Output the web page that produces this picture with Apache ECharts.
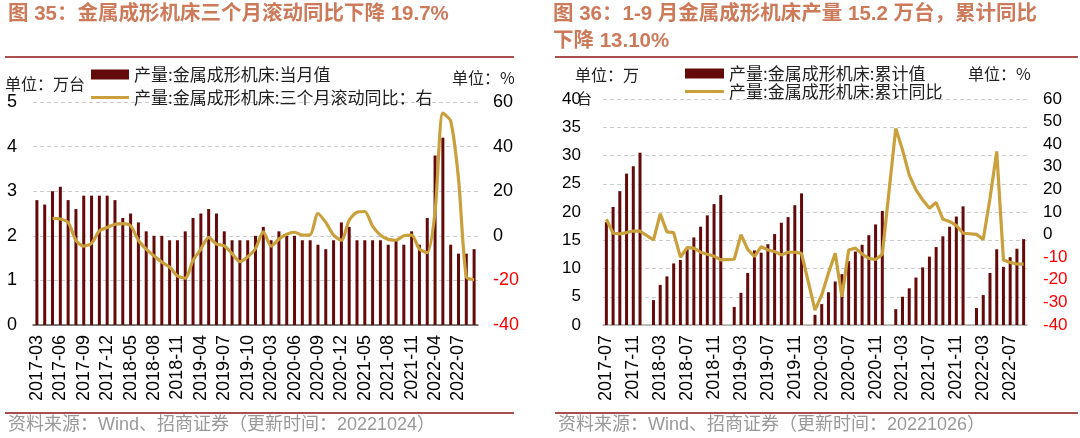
<!DOCTYPE html>
<html>
<head>
<meta charset="utf-8">
<script src="https://cdn.jsdelivr.net/npm/echarts@6/dist/echarts.min.js"></script>
<style>
  html, body { margin: 0; padding: 0; background: #fff; }
  #chart { width: 1080px; height: 438px; }
</style>
</head>
<body>
<div id="chart"></div>
<script>
// ==============================
// 데이터 정의
// ==============================

// 左图：当月值（万台）与三个月滚动同比（%），1、2月无数据
const monthCats = [
  '2017-03','2017-04','2017-05','2017-06','2017-07','2017-08','2017-09','2017-10','2017-11','2017-12',
  '2018-03','2018-04','2018-05','2018-06','2018-07','2018-08','2018-09','2018-10','2018-11','2018-12',
  '2019-03','2019-04','2019-05','2019-06','2019-07','2019-08','2019-09','2019-10','2019-11','2019-12',
  '2020-03','2020-04','2020-05','2020-06','2020-07','2020-08','2020-09','2020-10','2020-11','2020-12',
  '2021-03','2021-04','2021-05','2021-06','2021-07','2021-08','2021-09','2021-10','2021-11','2021-12',
  '2022-03','2022-04','2022-05','2022-06','2022-07','2022-08','2022-09'
];
const monthValue = [
  2.8, 2.7, 3.0, 3.1, 2.8, 2.6, 2.9, 2.9, 2.9, 2.9,
  2.8, 2.4, 2.5, 2.3, 2.1, 2.0, 2.0, 1.9, 1.9, 2.1,
  2.4, 2.5, 2.6, 2.5, 2.1, 1.9, 1.9, 1.9, 2.0, 2.2,
  1.9, 2.1, 2.0, 2.0, 1.9, 1.9, 1.8, 1.7, 1.9, 2.3,
  2.2, 1.9, 1.9, 1.9, 1.9, 1.8, 1.9, 1.8, 2.1, 1.8,
  2.4, 3.8, 4.2, 1.8, 1.6, 1.6, 1.7
];
const rollingYoy = [
  null, null, 7.8, 7.5, 6.0, -2.0, -4.6, -3.4, 2.2, 3.7,
  5.2, 5.5, 4.5, -2.0, -6.0, -9.0, -11.8, -14.0, -18.0, -19.0,
  -11.0, -6.0, -0.7, -3.7, -4.5, -8.0, -11.6, -9.4, -5.7, 1.8,
  -4.6, -1.5, 0.7, 1.6, 0.3, 0.4, 10.0, 6.0, 0.3, -2.0,
  7.0, 10.6, 10.9, 4.3, 0.3, -1.6, -2.0, 0.0, 0.3, -6.0,
  -7.6, 10.7, 55.0, 51.5, 25.7, -18.4, -19.7
];

// 右图：累计值（万台）与累计同比（%），1月为空
const cumCats = [
  '2017-07','2017-08','2017-09','2017-10','2017-11','2017-12',
  '2018-01','2018-02','2018-03','2018-04','2018-05','2018-06','2018-07','2018-08','2018-09','2018-10','2018-11','2018-12',
  '2019-01','2019-02','2019-03','2019-04','2019-05','2019-06','2019-07','2019-08','2019-09','2019-10','2019-11','2019-12',
  '2020-01','2020-02','2020-03','2020-04','2020-05','2020-06','2020-07','2020-08','2020-09','2020-10','2020-11','2020-12',
  '2021-01','2021-02','2021-03','2021-04','2021-05','2021-06','2021-07','2021-08','2021-09','2021-10','2021-11','2021-12',
  '2022-01','2022-02','2022-03','2022-04','2022-05','2022-06','2022-07','2022-08','2022-09'
];
const cumValue = [
  18.2, 20.9, 23.7, 26.8, 28.1, 30.5,
  null, 4.4, 7.1, 8.6, 10.9, 11.5, 13.4, 15.5, 17.4, 19.4, 21.4, 23.0,
  null, 3.2, 5.7, 9.2, 13.2, 12.8, 14.3, 16.1, 18.1, 19.1, 21.2, 23.3,
  null, 1.8, 3.7, 5.8, 7.7, 9.0, 11.3, 13.0, 14.2, 15.9, 17.8, 20.2,
  null, 2.8, 5.0, 6.5, 8.4, 10.2, 12.1, 13.8, 15.7, 17.4, 19.2, 21.0,
  null, 3.0, 5.3, 9.2, 13.4, 10.3, 12.0, 13.5, 15.2
];
const cumYoy = [
  6.8, 0.6, 0.3, 0.9, 1.6, 1.5,
  null, -2.4, 9.2, 1.2, 0.9, -10.0, -5.8, -6.0, -7.8, -8.7, -9.5, -11.2,
  null, -10.9, 0.0, -6.5, -9.7, -5.3, -6.8, -7.5, -9.0, -7.8, -7.8, -8.3,
  null, -33.4, -26.7, -17.0, -8.3, -27.5, -6.8, -6.0, -8.6, -10.5, -11.0, -8.7,
  null, 47.0, 37.5, 26.4, 19.8, 15.4, 11.7, 14.2, 6.8, 5.8, 4.0, 0.6,
  null, 0.1, -2.1, 16.0, 36.8, -11.2, -12.3, -13.0, -13.1
];

const leftNames = ['产量:金属成形机床:当月值', '产量:金属成形机床:三个月滚动同比：右'];
const rightNames = ['产量:金属成形机床:累计值', '产量:金属成形机床:累计同比'];

// 색상 정의
const barColor = '#650A0A';
const lineColor = '#C9A03B';
const titleColor = '#CC7A5A';
const ruleColor = '#8E1414';

const numFont = '"Liberation Sans", Arial, sans-serif';
const cjkFont = '"Noto Sans CJK SC", sans-serif';
// 数字和字母用 Arial 类字体，中文回落到 Noto
const mixFont = '"Liberation Sans", "Noto Sans CJK SC", sans-serif';

// 图例里的折线只画一条细线，不要圆点
const lineIcon = 'path://M0,0 L38,0 L38,3 L0,3 Z';

// ==============================
// 차트 초기화
// ==============================

const chart = echarts.init(document.getElementById('chart'));

const pctColor = v => (v < 0 ? '#FF0000' : '#000');

function xAxisOf(gridIndex, data, step, lineClr) {
  return {
    type: 'category',
    gridIndex,
    data,
    axisLine: { lineStyle: { color: lineClr, width: 1.5 } },
    axisTick: { interval: step, length: 5, lineStyle: { color: lineClr, width: 1.2 } },
    axisLabel: {
      interval: step === 0 ? 2 : step,
      rotate: 90,
      margin: 10,
      color: '#000',
      fontSize: 18,
      fontFamily: numFont
    }
  };
}

function valueAxis(gridIndex, min, max, interval, margin, opts) {
  return Object.assign({
    type: 'value',
    gridIndex,
    min, max, interval,
    axisLine: { show: false },
    axisTick: { show: false },
    splitLine: { show: false },
    axisLabel: { color: '#000', fontSize: 18, fontFamily: numFont, margin }
  }, opts || {});
}

const graphicText = (x, y, text, style) => ({
  type: 'text',
  left: x,
  top: y,
  silent: true,
  style: Object.assign({ text, fill: '#222', font: '16px ' + cjkFont }, style || {})
});

const hrule = (x1, x2, y) => ({
  type: 'line',
  silent: true,
  shape: { x1, y1: y, x2, y2: y },
  style: { stroke: ruleColor, lineWidth: 1.6 }
});

chart.setOption({
  animation: false,
  grid: [
    { left: 33, right: 602, top: 102, bottom: 113 },
    { left: 603, right: 53, top: 99, bottom: 113 }
  ],
  legend: [
    {
      left: 86, top: 61, orient: 'vertical',
      itemWidth: 38, itemHeight: 10, itemGap: 6,
      textStyle: { fontSize: 17, color: '#222', fontFamily: cjkFont },
      data: [{ name: leftNames[0], icon: 'rect' }, { name: leftNames[1], icon: lineIcon }]
    },
    {
      left: 680, top: 60, orient: 'vertical',
      itemWidth: 39, itemHeight: 10, itemGap: 1,
      textStyle: { fontSize: 17, color: '#222', fontFamily: cjkFont, lineHeight: 17 },
      data: [{ name: rightNames[0], icon: 'rect' }, { name: rightNames[1], icon: lineIcon }]
    }
  ],
  xAxis: [
    xAxisOf(0, monthCats, 0, '#555'),
    xAxisOf(1, cumCats, 3, '#AAA')
  ],
  yAxis: [
    valueAxis(0, 0, 5, 1, 16, {
      splitLine: { show: true, lineStyle: { color: '#CCC', type: [4, 3] } }
    }),
    valueAxis(0, -40, 60, 20, 15, {
      position: 'right',
      axisLabel: { color: pctColor, fontSize: 18, fontFamily: numFont, margin: 15 }
    }),
    valueAxis(1, 0, 40, 5, 22, {
      axisLabel: { color: '#000', fontSize: 17, fontFamily: numFont, margin: 22 },
      splitLine: { show: true, lineStyle: { color: '#CCC', type: [4, 3] } }
    }),
    valueAxis(1, -40, 60, 10, 16, {
      position: 'right',
      axisLabel: { color: pctColor, fontSize: 17, fontFamily: numFont, margin: 16 }
    })
  ],
  series: [
    {
      name: leftNames[0], type: 'bar', xAxisIndex: 0, yAxisIndex: 0,
      data: monthValue, barWidth: 3,
      itemStyle: { color: barColor }
    },
    {
      name: leftNames[1], type: 'line', xAxisIndex: 0, yAxisIndex: 1,
      data: rollingYoy, symbol: 'none', smooth: 0.25,
      lineStyle: { color: lineColor, width: 3.2 },
      itemStyle: { color: lineColor }
    },
    {
      name: rightNames[0], type: 'bar', xAxisIndex: 1, yAxisIndex: 2,
      data: cumValue, barWidth: 3,
      itemStyle: { color: barColor }
    },
    {
      name: rightNames[1], type: 'line', xAxisIndex: 1, yAxisIndex: 3,
      data: cumYoy, symbol: 'none', connectNulls: true,
      lineStyle: { color: lineColor, width: 3.2 },
      itemStyle: { color: lineColor }
    }
  ],
  graphic: [
    // 标题
    graphicText(8, 4, '图 35：金属成形机床三个月滚动同比下降 19.7%', {
      fill: titleColor, font: 'bold 20.5px ' + mixFont
    }),
    graphicText(553, 4, '图 36：1-9 月金属成形机床产量 15.2 万台，累计同比', {
      fill: titleColor, font: 'bold 20.5px ' + mixFont
    }),
    graphicText(553, 31, '下降 13.10%', {
      fill: titleColor, font: 'bold 20.5px ' + mixFont
    }),
    hrule(5, 514, 57),
    hrule(555, 1078, 57),
    hrule(5, 514, 413),
    hrule(555, 1078, 413),
    // 单位
    graphicText(5, 76, '单位：万台'),
    graphicText(452, 70, '单位：%'),
    graphicText(575, 67, '单位：万'),
    graphicText(577, 91, '台', { font: '15px ' + cjkFont }),
    graphicText(968, 66, '单位：%'),
    // 资料来源
    graphicText(8, 416, '资料来源：Wind、招商证券（更新时间：20221024）', {
      fill: '#999', font: '18px ' + mixFont
    }),
    graphicText(558, 416, '资料来源：Wind、招商证券（更新时间：20221026）', {
      fill: '#999', font: '18px ' + mixFont
    })
  ]
});

window.addEventListener('resize', () => {
  chart && chart.resize();
});
</script>
</body>
</html>
